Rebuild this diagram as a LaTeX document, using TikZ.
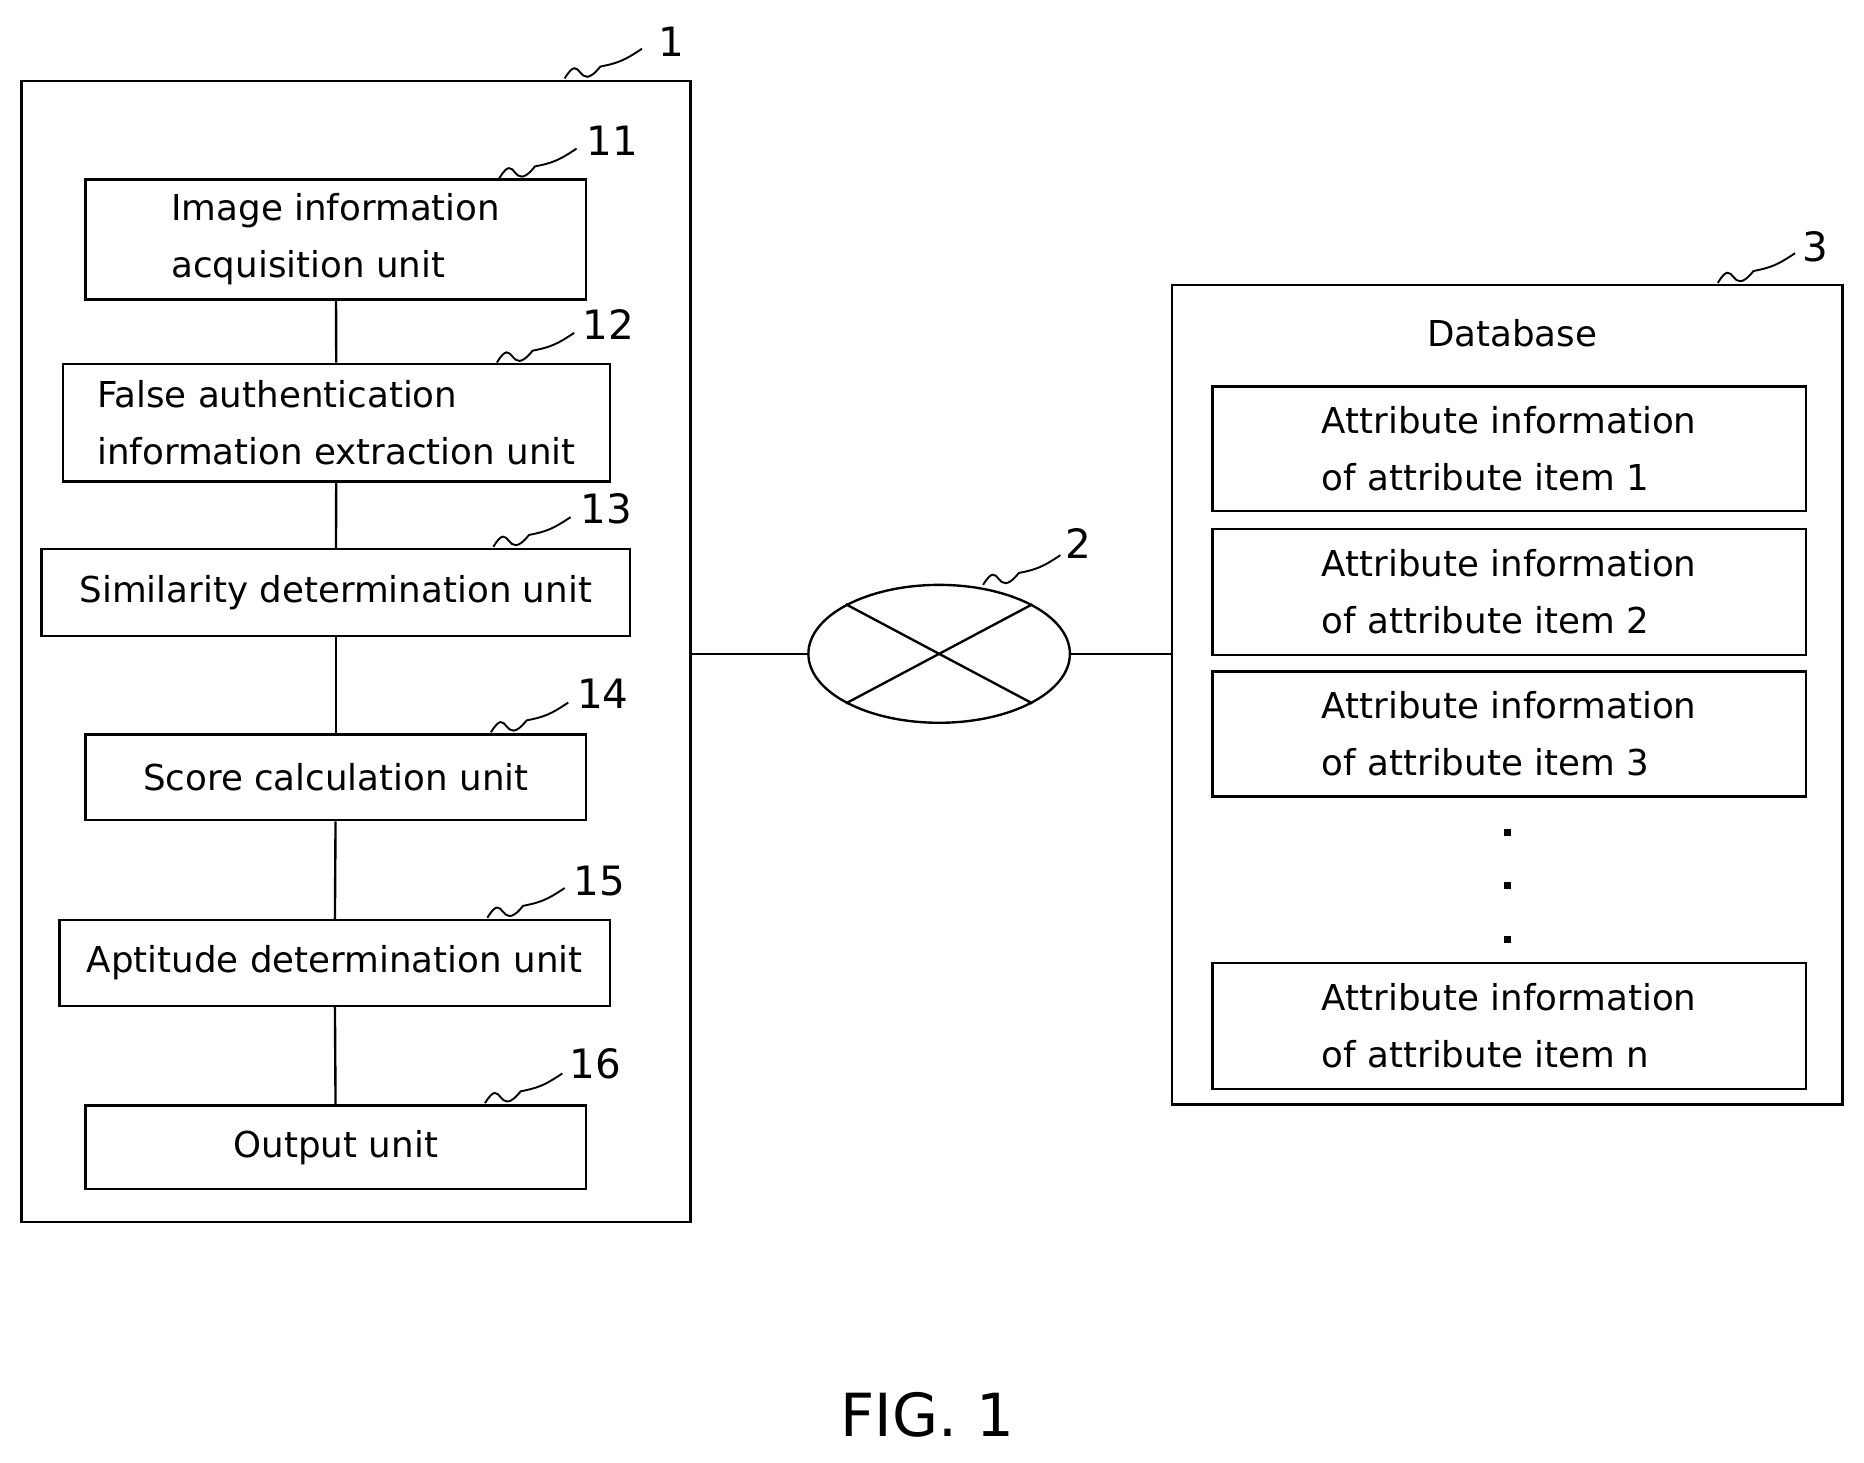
\documentclass[tikz,border=0pt]{standalone}
\usepackage{fontspec}
\setmainfont{DejaVu Sans}
\usetikzlibrary{shapes.geometric}
\begin{document}
\begin{tikzpicture}[x=1pt,y=-1pt,
  box/.style={draw,line width=2pt,align=left,font=\fontsize{30}{48}\selectfont,inner sep=0pt},
  lab/.style={font=\fontsize{34}{40}\selectfont},
  ln/.style={line width=2pt},
  sq/.style={line width=1.6pt}]
\useasboundingbox (0,0) rectangle (1568,1230);
\draw[ln] (18,68) rectangle (581,1028);
\node[box,minimum width=421pt,minimum height=101pt] (b11) at (282.5,201.5) {Image information\\acquisition unit};
\node[box,minimum width=460pt,minimum height=99pt] (b12) at (283,355.5) {False authentication\\information extraction unit};
\node[box,minimum width=495pt,minimum height=73pt] (b13) at (282.5,498.5) {Similarity determination unit};
\node[box,minimum width=421pt,minimum height=72pt] (b14) at (282.5,654) {Score calculation unit};
\node[box,minimum width=463pt,minimum height=72pt] (b15) at (281.5,810) {Aptitude determination unit};
\node[box,minimum width=421pt,minimum height=70pt] (b16) at (282.5,965) {Output unit};
\draw[ln] (b11) -- (b12); \draw[ln] (b12) -- (b13); \draw[ln] (b13) -- (b14);
\draw[ln] (b14) -- (b15); \draw[ln] (b15) -- (b16);
\coordinate (o1) at (581,550);
\node[draw,ellipse,ln,minimum width=220pt,minimum height=116pt,inner sep=0pt] (net) at (790,550) {};
\draw[ln] (net.north west) -- (net.south east);
\draw[ln] (net.south west) -- (net.north east);
\coordinate (o3) at (986,550);
\draw[ln] (o1) -- (net.west); \draw[ln] (net.east) -- (o3);
\draw[ln] (986,240) rectangle (1550,929);
\node[font=\fontsize{30}{36}\selectfont] (db) at (1272,280) {Database};
\node[box,minimum width=499pt,minimum height=105pt] (a1) at (1269.5,377.5) {Attribute information\\of attribute item 1};
\node[box,minimum width=499pt,minimum height=106pt] (a2) at (1269.5,498) {Attribute information\\of attribute item 2};
\node[box,minimum width=499pt,minimum height=105pt] (a3) at (1269.5,617.5) {Attribute information\\of attribute item 3};
\node[box,minimum width=499pt,minimum height=106pt] (an) at (1269.5,863) {Attribute information\\of attribute item n};
\foreach \y/\n in {700/d1,745/d2,790/d3} \node[fill,minimum size=6pt,inner sep=0pt] (\n) at (1268,\y) {};
\foreach \sx/\sy/\lx/\ly/\t in {475/66/565/35/1, 420/150/515/118/11, 418/305/512/273/12, 415/460/510/428/13, 413/616/507/584/14, 410/772/504/741/15, 408/928/501/895/16, 827/492/907/457/2, 1445/238/1527/208/3}{
  \node[lab] (L\t) at (\lx,\ly) {\t};
  \draw[sq] (\sx,\sy) .. controls ++(15,-25) and ++(-20,25) .. ++(30,-10) .. controls ++(15,-3) and ++(-15,10) .. ++(35,-15);
}
\node[font=\fontsize{50}{60}\selectfont] (fig) at (780,1190) {FIG. 1};
\end{tikzpicture}
\end{document}
